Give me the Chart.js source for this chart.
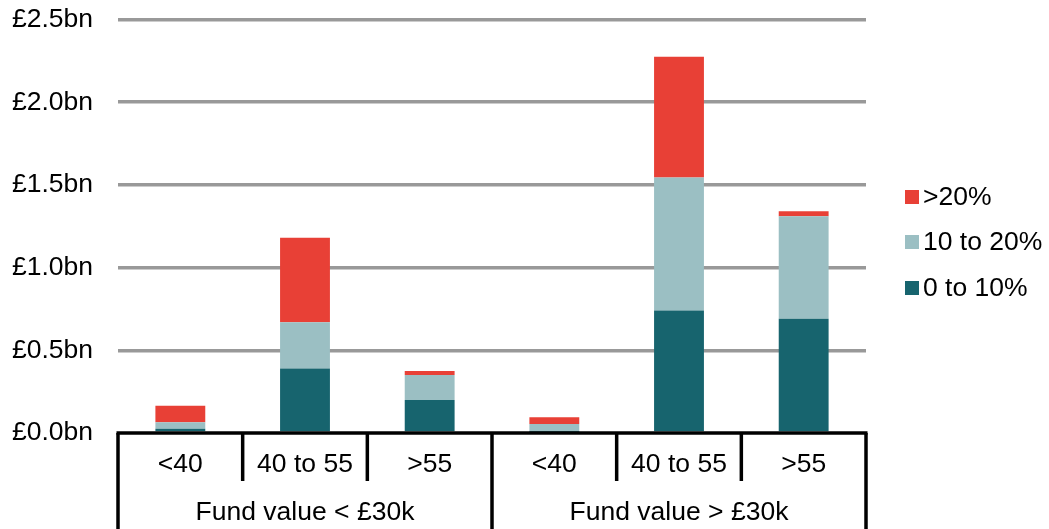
<!DOCTYPE html>
<html>
<head>
<meta charset="utf-8">
<script src="https://cdn.jsdelivr.net/npm/chart.js@4"></script>
<style>
html,body{margin:0;padding:0;background:#fff;}
#wrap{width:1049px;height:529px;position:relative;}
</style>
</head>
<body>
<div id="wrap"><canvas id="c" width="1049" height="529"></canvas></div>
<script>
const categories = ['<40', '40 to 55', '>55', '<40', '40 to 55', '>55'];
const groups = ['Fund value < £30k', 'Fund value > £30k'];
const seriesNames = ['0 to 10%', '10 to 20%', '>20%'];
const low = [0.025, 0.39, 0.20, 0.005, 0.74, 0.69];
const mid = [0.04, 0.28, 0.15, 0.05, 0.805, 0.62];
const high = [0.10, 0.51, 0.025, 0.04, 0.73, 0.03];
const yTicks = [0, 0.5, 1.0, 1.5, 2.0, 2.5];
const colors = ['#17646E', '#9BBFC3', '#E84036'];

const FONT = 'Liberation Sans, Arial, sans-serif';
const FS = 26.5;

const axisPlugin = {
  id: 'customAxis',
  afterDraw(chart) {
    const ctx = chart.ctx;
    const x = chart.scales.x, y = chart.scales.y;
    const area = chart.chartArea;
    const y0 = y.getPixelForValue(0);
    const H = chart.height;
    ctx.save();
    ctx.strokeStyle = '#000';
    ctx.lineWidth = 3.5;
    ctx.beginPath();
    ctx.moveTo(area.left - 1.5, y0);
    ctx.lineTo(area.right + 1.5, y0);
    ctx.stroke();
    const n = categories.length;
    const per = n / groups.length;
    for (let i = 0; i <= n; i++) {
      let bx;
      if (i === 0) bx = area.left;
      else if (i === n) bx = area.right;
      else bx = (x.getPixelForValue(i - 1) + x.getPixelForValue(i)) / 2;
      const outer = (i % per === 0);
      ctx.beginPath();
      ctx.moveTo(bx, y0);
      ctx.lineTo(bx, outer ? H : 481);
      ctx.stroke();
    }
    ctx.fillStyle = '#000';
    ctx.font = FS + 'px ' + FONT;
    ctx.textAlign = 'center';
    ctx.textBaseline = 'middle';
    for (let i = 0; i < n; i++) {
      ctx.fillText(categories[i], x.getPixelForValue(i), 465);
    }
    for (let g = 0; g < groups.length; g++) {
      const a = x.getPixelForValue(g * per), b = x.getPixelForValue(g * per + per - 1);
      ctx.fillText(groups[g], (a + b) / 2, 513);
    }
    // legend
    const ds = chart.data.datasets.slice().reverse();
    const rows = [197, 242, 288];
    ctx.textAlign = 'left';
    ds.forEach((d, i) => {
      ctx.fillStyle = d.backgroundColor;
      ctx.fillRect(905, rows[i] - 7, 14, 14);
      ctx.fillStyle = '#000';
      ctx.fillText(d.label, 923, rows[i] + 1);
    });
    ctx.restore();
  }
};

new Chart(document.getElementById('c'), {
  type: 'bar',
  data: {
    labels: categories,
    datasets: [
      { label: seriesNames[0], data: low, backgroundColor: colors[0] },
      { label: seriesNames[1], data: mid, backgroundColor: colors[1] },
      { label: seriesNames[2], data: high, backgroundColor: colors[2] }
    ]
  },
  options: {
    responsive: false,
    animation: false,
    devicePixelRatio: 1,
    layout: { padding: { top: 19.5, right: 183, bottom: 96, left: 0 } },
    datasets: { bar: { barPercentage: 0.4, categoryPercentage: 1.0 } },
    plugins: { legend: { display: false }, tooltip: { enabled: false } },
    scales: {
      x: { stacked: true, display: false },
      y: {
        stacked: true,
        min: 0, max: 2.5,
        afterFit(s) { s.width = 118; s.paddingTop = 0; s.paddingBottom = 0; },
        afterBuildTicks(s) { s.ticks = yTicks.map(v => ({ value: v })); },
        border: { display: false },
        grid: {
          drawTicks: false,
          lineWidth: 3.5,
          color: c => (c.tick && c.tick.value === 0) ? 'rgba(0,0,0,0)' : '#999999'
        },
        ticks: {
          padding: 25,
          color: '#000',
          font: { family: FONT, size: FS },
          callback: v => '£' + Number(v).toFixed(1) + 'bn'
        }
      }
    }
  },
  plugins: [axisPlugin]
});
</script>
</body>
</html>
